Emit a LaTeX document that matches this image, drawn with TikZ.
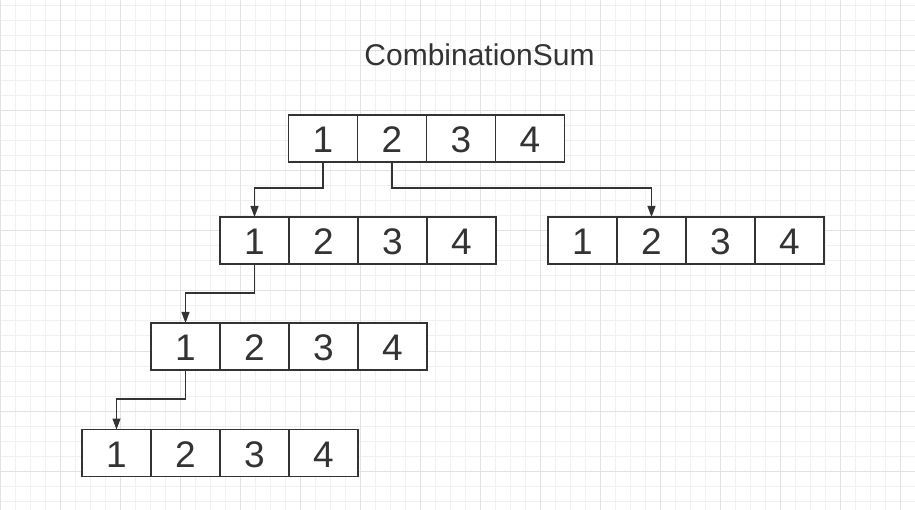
\documentclass[tikz,border=0pt]{standalone}
\usepackage{fontspec}
\setmainfont{Liberation Sans}
\usetikzlibrary{arrows.meta}
\definecolor{ink}{HTML}{333333}
\definecolor{gridminor}{HTML}{F0F0F0}
\definecolor{gridmajor}{HTML}{E2E2E2}
\tikzset{
  cell/.style={draw=ink, line width=1.3pt, fill=white, minimum width=69pt, minimum height=47pt,
    inner sep=0pt, outer sep=0pt, text=ink, font=\fontsize{37}{37}\selectfont, text depth=0pt,
    text height=28pt},
  link/.style={draw=ink, line width=1.2pt, -{Triangle[length=11pt,width=8pt]}},
}
\begin{document}
\begin{tikzpicture}[x=1pt,y=-1pt]
\useasboundingbox (0,0) rectangle (915,510);
\fill[white] (0,0) rectangle (915,510);
% grid
\foreach \x in {15,30,...,915} \draw[gridminor, line width=1pt] (\x,0) -- (\x,510);
\foreach \y in {6,21,...,510} \draw[gridminor, line width=1pt] (0,\y) -- (915,\y);
\foreach \x in {0,60,...,915} \draw[gridmajor, line width=1pt] (\x,0) -- (\x,510);
\foreach \y in {51,111,...,510} \draw[gridmajor, line width=1pt] (0,\y) -- (915,\y);
% title
\node[text=ink, font=\fontsize{30}{30}\selectfont, anchor=base] (title) at (479.5,66) {CombinationSum};
% row a
\node[cell] (a1) at (323,138.5) {1};
\node[cell] (a2) at (392,138.5) {2};
\node[cell] (a3) at (461,138.5) {3};
\node[cell] (a4) at (530,138.5) {4};
% row b left
\node[cell] (b1) at (254.5,240.5) {1};
\node[cell] (b2) at (323.5,240.5) {2};
\node[cell] (b3) at (392.5,240.5) {3};
\node[cell] (b4) at (461.5,240.5) {4};
% row b right
\node[cell] (r1) at (582.5,240.5) {1};
\node[cell] (r2) at (651.5,240.5) {2};
\node[cell] (r3) at (720.5,240.5) {3};
\node[cell] (r4) at (789.5,240.5) {4};
% row c
\node[cell] (c1) at (185.5,346.5) {1};
\node[cell] (c2) at (254.5,346.5) {2};
\node[cell] (c3) at (323.5,346.5) {3};
\node[cell] (c4) at (392.5,346.5) {4};
% row d
\node[cell] (d1) at (116.5,453) {1};
\node[cell] (d2) at (185.5,453) {2};
\node[cell] (d3) at (254.5,453) {3};
\node[cell] (d4) at (323.5,453) {4};
% connectors
\draw[link] (a1.south) -- ++(0,26) -| (b1.north);
\draw[link] (a2.south) -- ++(0,26) -| (r2.north);
\draw[link] (b1.south) -- ++(0,29) -| (c1.north);
\draw[link] (c1.south) -- ++(0,29) -| (d1.north);
\end{tikzpicture}
\end{document}
